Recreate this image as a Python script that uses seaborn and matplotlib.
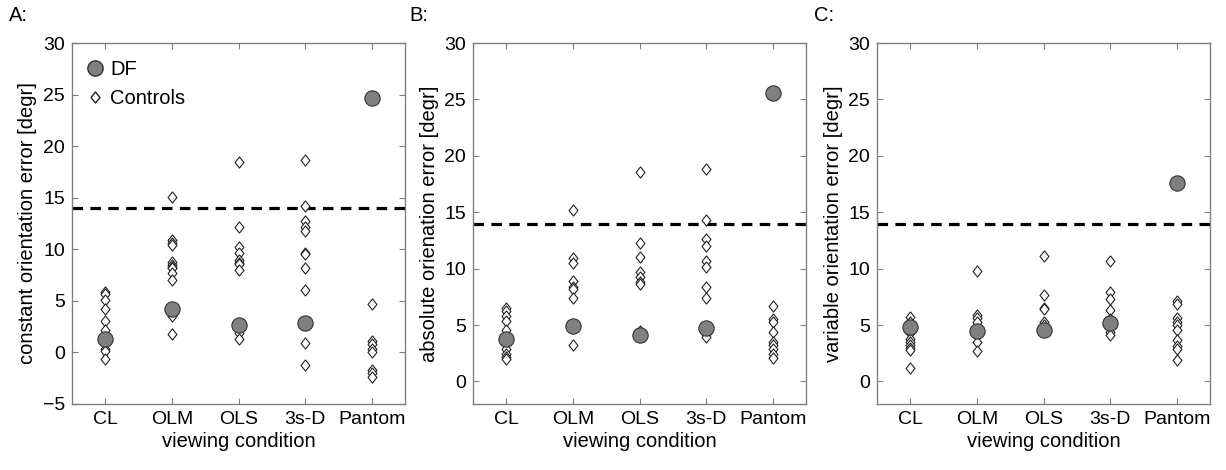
import matplotlib
matplotlib.use("Agg")
import matplotlib.pyplot as plt
from matplotlib.lines import Line2D
from matplotlib.path import Path
import pandas as pd
import seaborn as sns

conditions = ["CL", "OLM", "OLS", "3s-D", "Pantom"]

# constant orientation error (panel A)
const_controls = {
    "CL": [5.9, 5.7, 5.1, 4.2, 3.0, 2.2, 0.3, 0.1, -0.6],
    "OLM": [15.1, 10.9, 10.6, 10.4, 8.8, 8.5, 8.3, 8.2, 7.7, 7.0, 3.5, 1.8],
    "OLS": [18.5, 12.2, 10.2, 9.6, 9.0, 8.7, 8.6, 8.0, 1.9, 1.3],
    "3s-D": [18.7, 14.2, 12.7, 12.2, 11.8, 9.6, 9.5, 8.2, 6.1, 0.9, -1.2],
    "Pantom": [4.7, 1.1, 0.8, 0.3, 0.0, -1.7, -2.0, -2.4],
}
const_df = [1.3, 4.2, 2.7, 2.9, 24.7]

# absolute orientation error (panel B)
abs_controls = {
    "CL": [6.5, 6.2, 5.8, 5.4, 4.6, 2.9, 2.4, 2.2, 2.0],
    "OLM": [15.2, 10.9, 10.5, 8.9, 8.4, 8.2, 7.4, 3.2],
    "OLS": [18.6, 12.3, 11.0, 9.7, 9.3, 8.8, 8.6, 4.5],
    "3s-D": [18.8, 14.3, 12.6, 12.0, 10.7, 10.1, 8.4, 7.4, 4.2, 3.9],
    "Pantom": [6.7, 5.5, 5.3, 4.4, 3.5, 3.2, 2.9, 2.4, 2.1],
}
abs_df = [3.8, 4.9, 4.1, 4.7, 25.6]

# variable orientation error (panel C)
var_controls = {
    "CL": [5.7, 5.3, 4.3, 3.8, 3.5, 3.2, 3.0, 2.8, 1.2],
    "OLM": [9.8, 5.9, 5.6, 5.3, 4.1, 3.5, 2.7],
    "OLS": [11.1, 7.7, 6.5, 6.4, 5.3, 5.0],
    "3s-D": [10.7, 7.9, 7.3, 6.3, 5.5, 4.4, 4.1],
    "Pantom": [7.1, 6.9, 5.6, 5.3, 5.0, 4.6, 3.7, 3.1, 2.9, 1.9],
}
var_df = [4.8, 4.5, 4.6, 5.2, 17.6]

threshold = 14

panels = [
    ("A:", "constant orientation error [degr]", const_controls, const_df, (-5, 30), range(-5, 31, 5)),
    ("B:", "absolute orienation error [degr]", abs_controls, abs_df, (-2, 30), range(0, 31, 5)),
    ("C:", "variable orientation error [degr]", var_controls, var_df, (-2, 30), range(0, 31, 5)),
]

sns.set_style("white")
plt.rcParams["font.family"] = ["Liberation Sans", "DejaVu Sans"]
plt.rcParams["text.color"] = "black"
plt.rcParams["axes.labelcolor"] = "black"
plt.rcParams["xtick.color"] = "black"
plt.rcParams["ytick.color"] = "black"

# matlab-like diamond, a bit taller than wide
diamond = Path([(0, 1), (0.8, 0), (0, -1), (-0.8, 0), (0, 1)],
               [Path.MOVETO, Path.LINETO, Path.LINETO, Path.LINETO, Path.CLOSEPOLY])

fig = plt.figure(figsize=(12.26, 4.70), dpi=100)
lefts = [72 / 1226, 473 / 1226, 877 / 1226]
width = 333 / 1226
bottom = 1 - 404 / 470
height = (404 - 43) / 470

grey = "#808080"

for i, (tag, ylabel, controls, df_vals, ylim, yticks) in enumerate(panels):
    ax = fig.add_axes([lefts[i], bottom, width, height])
    ctrl = pd.DataFrame(
        [(c, v) for c in conditions for v in controls[c]],
        columns=["condition", "value"],
    )
    dfp = pd.DataFrame({"condition": conditions, "value": df_vals})

    ax.axhline(threshold, color="black", linestyle=(0, (3.3, 2.3)), linewidth=2.3, zorder=1)
    sns.stripplot(data=ctrl, x="condition", y="value", order=conditions, jitter=False,
                  marker=diamond, size=8, color="white", edgecolor="#222222",
                  linewidth=0.8, ax=ax, zorder=2)
    sns.stripplot(data=dfp, x="condition", y="value", order=conditions, jitter=False,
                  marker="o", size=11, color="#808080", edgecolor="#333333",
                  linewidth=0.8, ax=ax, zorder=3)

    ax.set_xlim(-0.5, 4.5)
    ax.set_ylim(*ylim)
    ax.set_yticks(list(yticks))
    ax.set_xlabel("viewing condition", fontsize=14.5, labelpad=3)
    ax.set_ylabel(ylabel, fontsize=14.5, labelpad=4)
    for s in ax.spines.values():
        s.set_visible(True)
        s.set_color(grey)
        s.set_linewidth(1.0)
    ax.tick_params(direction="in", length=4, width=0.8, color=grey,
                   labelcolor="black", top=True, right=True, left=True, bottom=True,
                   labelsize=14, pad=5)
    ax.text(-0.19, 1.075, tag, transform=ax.transAxes, fontsize=14.5, ha="left", va="center")

    if i == 0:
        handles = [
            Line2D([], [], marker="o", linestyle="none", markersize=11,
                   markerfacecolor="#808080", markeredgecolor="#333333", label="DF"),
            Line2D([], [], marker=diamond, linestyle="none", markersize=8,
                   markerfacecolor="white", markeredgecolor="#222222", label="Controls"),
        ]
        ax.legend(handles=handles, loc="upper left", bbox_to_anchor=(0.0, 0.985),
                  frameon=False, fontsize=14.5, handletextpad=0.2, borderaxespad=0.2,
                  labelspacing=0.45, handlelength=1.1)

fig.savefig("out.png", dpi=100)
